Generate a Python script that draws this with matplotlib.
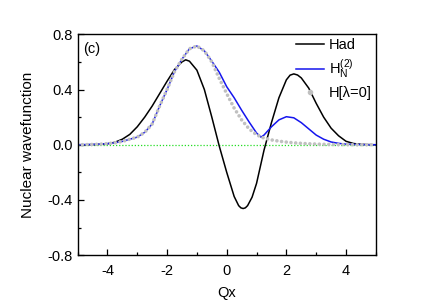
import matplotlib
matplotlib.use('Agg')
import matplotlib.pyplot as plt
from matplotlib.lines import Line2D
from matplotlib.ticker import MultipleLocator

plt.rcParams['font.family'] = ['Liberation Sans', 'DejaVu Sans']
plt.rcParams['mathtext.fontset'] = 'custom'
plt.rcParams['mathtext.rm'] = 'Liberation Sans'
plt.rcParams['axes.unicode_minus'] = False

# H_ad (black)
qx_had = [-5, -4.75, -4.5, -4.25, -4, -3.75, -3.5, -3.25, -3, -2.75, -2.5, -2.25,
          -2, -1.75, -1.5, -1.375, -1.25, -1, -0.75, -0.5, -0.25, 0, 0.25, 0.4,
          0.475, 0.55, 0.625, 0.7, 0.85, 1.0, 1.25, 1.5, 1.75, 2.0, 2.125, 2.25,
          2.375, 2.5, 2.75, 3.0, 3.25, 3.5, 3.75, 4, 4.25, 4.5, 4.75, 5]
psi_had = [0, 0, 0.001, 0.003, 0.007, 0.018, 0.04, 0.075, 0.13, 0.2, 0.28, 0.37,
           0.46, 0.545, 0.6, 0.615, 0.605, 0.54, 0.40, 0.2, -0.01, -0.2, -0.375, -0.441,
           -0.457, -0.462, -0.457, -0.441, -0.38, -0.28, -0.04, 0.16, 0.34, 0.47, 0.504,
           0.513, 0.505, 0.484, 0.41, 0.3, 0.2, 0.12, 0.065, 0.025, 0.009, 0.003, 0.001, 0]

# H_N^(2) (blue)
qx_n2 = [-5, -4.75, -4.5, -4.25, -4, -3.75, -3.5, -3.25, -3, -2.75, -2.5, -2.25,
         -2, -1.75, -1.5, -1.25, -1, -0.75, -0.5, -0.25, 0, 0.25, 0.5, 0.75, 1.0,
         1.15, 1.25, 1.5, 1.75, 2.0, 2.25, 2.5, 2.75, 3.0, 3.25, 3.5, 3.75, 4.0,
         4.25, 4.5, 4.75, 5]
psi_n2 = [0, 0.001, 0.002, 0.004, 0.008, 0.014, 0.024, 0.04, 0.055, 0.09, 0.15, 0.28,
          0.40, 0.53, 0.62, 0.695, 0.715, 0.68, 0.605, 0.525, 0.42, 0.34, 0.25, 0.165, 0.085,
          0.055, 0.07, 0.13, 0.18, 0.203, 0.195, 0.16, 0.115, 0.07, 0.04, 0.02, 0.01, 0.004,
          0.002, 0.001, 0, 0]

# H[lambda=0] (grey dots)
qx_l0 = [-5, -4.75, -4.5, -4.25, -4, -3.75, -3.5, -3.25, -3, -2.75, -2.5, -2.25,
         -2, -1.75, -1.5, -1.25, -1, -0.75, -0.5, -0.25, 0, 0.25, 0.5, 0.75, 1.0,
         1.25, 1.5, 1.75, 2.0, 2.25, 2.5, 2.75, 3.0, 3.25, 3.5, 3.75, 4.0, 4.25,
         4.5, 4.75, 5]
psi_l0 = [0, 0.001, 0.002, 0.004, 0.008, 0.014, 0.024, 0.04, 0.055, 0.09, 0.15, 0.28,
          0.40, 0.53, 0.62, 0.695, 0.715, 0.68, 0.60, 0.48, 0.37, 0.265, 0.18, 0.115, 0.072,
          0.048, 0.035, 0.026, 0.019, 0.014, 0.01, 0.007, 0.005, 0.003, 0.002, 0.001, 0.001,
          0, 0, 0, 0]

fig = plt.figure(figsize=(4.36, 3.06), dpi=100)
ax = fig.add_axes([0.178, 0.166, 0.684, 0.722])

ax.axhline(0, color='#22dd22', lw=0.9, ls=(0, (1, 1.5)))
ax.plot(qx_had, psi_had, color='black', lw=1.1)
ax.plot(qx_n2, psi_n2, color='#1515ee', lw=1.1)
ax.plot(qx_l0, psi_l0, color='#c0c0c0', lw=2.6, ls=(0, (0.01, 1.3)),
        dash_capstyle='round')

ax.set_xlim(-5, 5)
ax.set_ylim(-0.8, 0.8)
ax.xaxis.set_major_locator(MultipleLocator(2))
ax.xaxis.set_minor_locator(MultipleLocator(1))
ax.yaxis.set_major_locator(MultipleLocator(0.4))
ax.yaxis.set_minor_locator(MultipleLocator(0.2))
ax.tick_params(which='both', direction='in', top=False, right=False, labelsize=10.5)
ax.tick_params(which='major', length=4, width=0.9)
ax.tick_params(which='minor', length=2.5, width=0.9)
ax.tick_params(axis='x', pad=6)
for s in ax.spines.values():
    s.set_linewidth(1.0)

ax.set_xlabel('Qx', fontsize=10.5, labelpad=6)
ax.set_ylabel('Nuclear wavefunction', fontsize=11, labelpad=9)
ax.text(0.018, 0.935, '(c)', transform=ax.transAxes, fontsize=10.5, va='center')

handles = [Line2D([], [], color='black', lw=1.1),
           Line2D([], [], color='#1515ee', lw=1.1),
           Line2D([], [], ls='none', marker='o', ms=3, color='#c0c0c0')]
labels = ['Had', r'$\mathrm{H}_\mathrm{N}^{(2)}$', 'H[λ=0]']
ax.legend(handles, labels, loc='upper right', bbox_to_anchor=(1.012, 1.015),
          frameon=False, fontsize=10.5, handlelength=1.9, handletextpad=0.35,
          labelspacing=0.35, borderaxespad=0.1, numpoints=1)

fig.savefig('out.png', dpi=100)
